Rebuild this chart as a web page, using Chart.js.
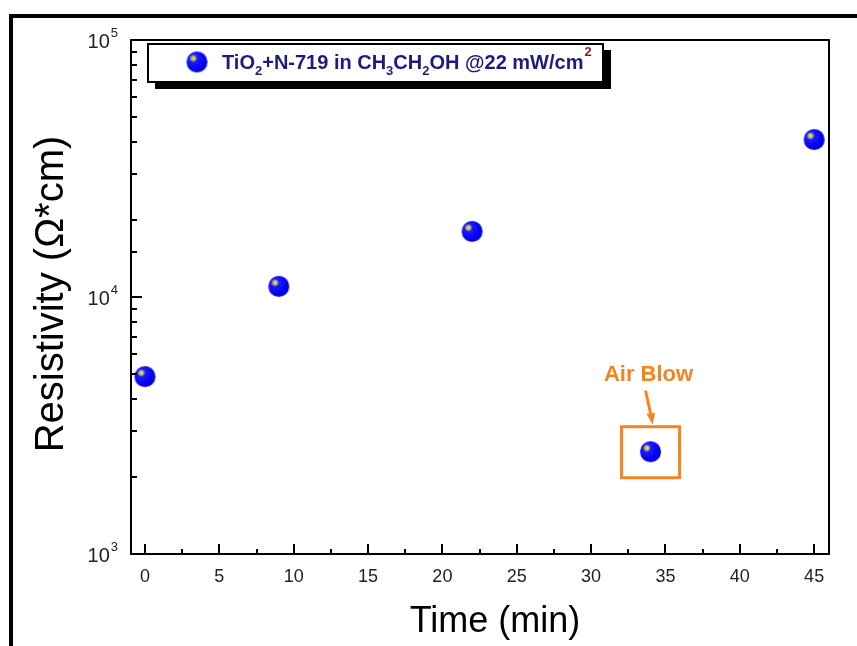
<!DOCTYPE html>
<html>
<head>
<meta charset="utf-8">
<script src="https://cdn.jsdelivr.net/npm/chart.js@4"></script>
<style>
  html, body { margin: 0; padding: 0; background: #fff; }
  #wrap { width: 857px; height: 646px; }
</style>
</head>
<body>
<div id="wrap"><canvas id="chart" width="857" height="646"></canvas></div>
<script>
// ---- data ----
const times = [0, 9, 22, 34, 45];                       // min
const resistivity = [4900, 11000, 18000, 2500, 41000];  // ohm*cm
const xTickStep = 5;
const yDecades = [1000, 10000, 100000];
const airBlowIndex = 3;
const legendParts = [
  { t: 'TiO' }, { t: '2', sub: true }, { t: '+N-719 in CH' }, { t: '3', sub: true },
  { t: 'CH' }, { t: '2', sub: true }, { t: 'OH @22 mW/cm' }, { t: '2', sup: true }
];

const FONT = '"Liberation Sans", Arial, sans-serif';
const ORANGE = '#f5841f';

// blue sphere marker with yellow highlight
function makeBall(r) {
  const c = document.createElement('canvas');
  c.width = c.height = r * 2 + 2;
  const g = c.getContext('2d');
  const cx = r + 1, cy = r + 1;
  const grad = g.createRadialGradient(cx - r * 0.35, cy - r * 0.35, 0, cx - r * 0.35, cy - r * 0.35, r * 1.2);
  grad.addColorStop(0, '#f4f000');
  grad.addColorStop(0.14, '#c8c860');
  grad.addColorStop(0.32, '#1a1aff');
  grad.addColorStop(1, '#0000e8');
  g.fillStyle = grad;
  g.beginPath();
  g.arc(cx, cy, r, 0, Math.PI * 2);
  g.fill();
  return c;
}
const ball = makeBall(10.5);

const frame = {
  id: 'frame',
  beforeDraw(chart) {
    const ctx = chart.ctx;
    ctx.save();
    ctx.fillStyle = '#fff';
    ctx.fillRect(0, 0, chart.width, chart.height);
    ctx.strokeStyle = '#000';
    ctx.lineWidth = 4;
    ctx.strokeRect(11, 16, 1000, 1000);
    ctx.restore();
  },
  afterDraw(chart) {
    const ctx = chart.ctx;
    const a = chart.chartArea;
    const xs = chart.scales.x, ys = chart.scales.y;
    ctx.save();
    // plot box
    ctx.strokeStyle = '#000';
    ctx.lineWidth = 2;
    ctx.strokeRect(a.left, a.top, a.right - a.left, a.bottom - a.top);

    // x ticks (inward)
    const xt = xs.ticks.map(t => t.value);
    ctx.lineWidth = 2;
    ctx.beginPath();
    xt.forEach((v, i) => {
      const px = Math.round(xs.getPixelForValue(v));
      ctx.moveTo(px, a.bottom); ctx.lineTo(px, a.bottom - 10);
      if (i < xt.length - 1) {
        const mx = Math.round(xs.getPixelForValue(v + xTickStep / 2));
        ctx.moveTo(mx, a.bottom); ctx.lineTo(mx, a.bottom - 5);
      }
    });
    ctx.stroke();

    // y ticks (inward)
    ctx.beginPath();
    ys.ticks.forEach(t => {
      const py = Math.round(ys.getPixelForValue(t.value));
      const major = yDecades.includes(t.value);
      ctx.moveTo(a.left, py); ctx.lineTo(a.left + (major ? 11 : 6), py);
    });
    ctx.stroke();

    // y tick labels 10^n
    ctx.fillStyle = '#222';
    yDecades.forEach(v => {
      const py = ys.getPixelForValue(v);
      const exp = String(Math.round(Math.log10(v)));
      ctx.font = '13px ' + FONT;
      const ew = ctx.measureText(exp).width;
      ctx.font = '20px ' + FONT;
      ctx.textBaseline = 'middle';
      ctx.textAlign = 'right';
      ctx.fillText('10', 118 - ew - 1, py + 2);
      ctx.font = '13px ' + FONT;
      ctx.textAlign = 'left';
      ctx.fillText(exp, 118 - ew, py - 7);
    });

    // axis titles
    ctx.fillStyle = '#000';
    ctx.font = '36px ' + FONT;
    ctx.textAlign = 'center';
    ctx.textBaseline = 'middle';
    ctx.fillText('Time (min)', 495, 622);
    ctx.save();
    ctx.translate(52, 294);
    ctx.rotate(-Math.PI / 2);
    ctx.font = '40px ' + FONT;
    ctx.fillText('Resistivity (\u03A9*cm)', 0, 0);
    ctx.restore();

    // legend box
    ctx.fillStyle = '#000';
    ctx.fillRect(155, 50, 456, 39);
    ctx.fillStyle = '#fff';
    ctx.fillRect(148, 44, 455, 38);
    ctx.strokeStyle = '#000';
    ctx.lineWidth = 2;
    ctx.strokeRect(148, 44, 455, 38);
    ctx.drawImage(ball, 197 - ball.width / 2, 62 - ball.height / 2);
    let tx = 222;
    const base = 69;
    ctx.textAlign = 'left';
    ctx.textBaseline = 'alphabetic';
    legendParts.forEach(p => {
      if (p.sub) {
        ctx.font = 'bold 13px ' + FONT;
        ctx.fillStyle = '#1c1c80';
        ctx.fillText(p.t, tx, base + 6);
      } else if (p.sup) {
        ctx.font = 'bold 13px ' + FONT;
        ctx.fillStyle = '#8b1a1a';
        ctx.fillText(p.t, tx + 1, base - 13);
      } else {
        ctx.font = 'bold 20px ' + FONT;
        ctx.fillStyle = '#1c1c80';
        ctx.fillText(p.t, tx, base);
      }
      tx += ctx.measureText(p.t).width;
    });

    // "Air Blow" annotation around the point
    const ex = xs.getPixelForValue(times[airBlowIndex]);
    const ey = ys.getPixelForValue(resistivity[airBlowIndex]);
    ctx.strokeStyle = ORANGE;
    ctx.fillStyle = ORANGE;
    ctx.lineWidth = 3;
    ctx.strokeRect(ex - 29, ey - 25, 58, 51);
    ctx.beginPath();
    ctx.moveTo(ex - 5, ey - 61);
    ctx.lineTo(ex + 0.5, ey - 36);
    ctx.stroke();
    ctx.beginPath();
    ctx.moveTo(ex + 2, ey - 27);
    ctx.lineTo(ex - 4, ey - 38);
    ctx.lineTo(ex + 4.5, ey - 39);
    ctx.closePath();
    ctx.fill();
    ctx.font = 'bold 22px ' + FONT;
    ctx.textAlign = 'center';
    ctx.textBaseline = 'middle';
    ctx.fillText('Air Blow', ex - 2, ey - 77);
    ctx.restore();
  }
};

new Chart(document.getElementById('chart'), {
  type: 'scatter',
  data: {
    datasets: [{
      data: times.map((t, i) => ({ x: t, y: resistivity[i] })),
      pointStyle: ball,
      pointRadius: 10,
      pointHoverRadius: 10
    }]
  },
  options: {
    responsive: false,
    animation: false,
    events: [],
    layout: { padding: { top: 40, right: 28, left: 0, bottom: 0 } },
    plugins: { legend: { display: false }, tooltip: { enabled: false } },
    scales: {
      x: {
        type: 'linear',
        min: -0.94,
        max: 46,
        grid: { display: false, drawTicks: false },
        border: { display: false },
        ticks: { stepSize: xTickStep, includeBounds: false, padding: 12, color: '#222', font: { family: FONT, size: 18 } },
        afterFit(s) { s.height = 92; }
      },
      y: {
        type: 'logarithmic',
        min: 1000,
        max: 100000,
        grid: { display: false, drawTicks: false },
        border: { display: false },
        ticks: { display: false },
        afterFit(s) { s.width = 131; }
      }
    }
  },
  plugins: [frame]
});
</script>
</body>
</html>
